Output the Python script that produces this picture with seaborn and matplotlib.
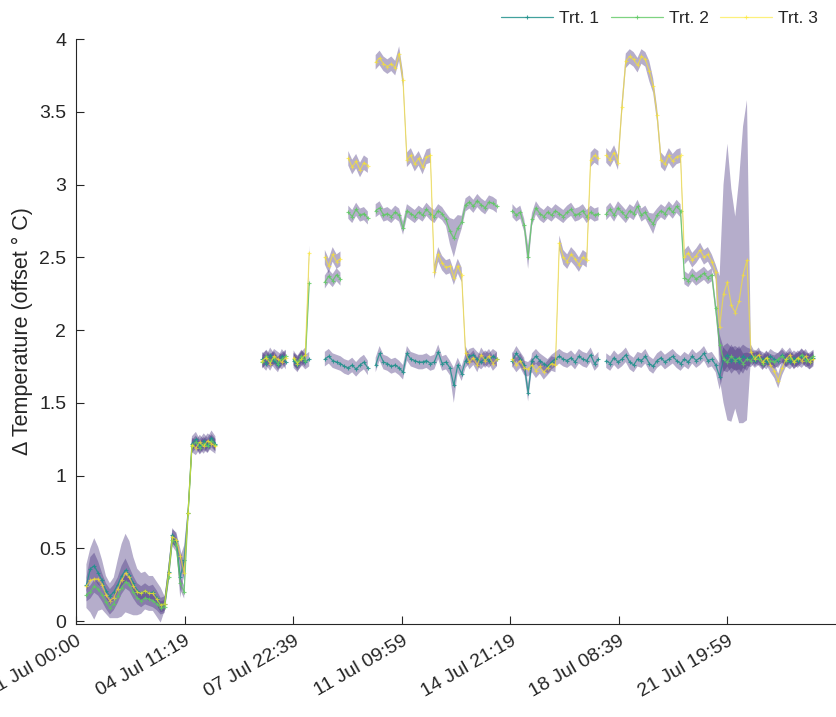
import numpy as np
import pandas as pd
import matplotlib
matplotlib.use('Agg')
import matplotlib.pyplot as plt
from matplotlib.colors import to_hex
from matplotlib.lines import Line2D
import seaborn as sns

#%%
# Data: mean offset per treatment, sampled every 3 h from 01 Jul 08:00
start_time = '2023-07-01 08:00'
step = '3h'

trt1 = ([0.25, 0.36, 0.38, 0.33, 0.28, 0.21, 0.17, 0.20, 0.25, 0.31, 0.35, 0.32, 0.26, 0.21,
         0.19, 0.21, 0.19, 0.20, 0.16, 0.11, 0.12, 0.34, 0.59, 0.55, 0.30, 0.42, 0.74]
        + [1.22, 1.25, 1.20, 1.24, 1.21, 1.26, 1.22]
        + [None] * 11
        + [1.80, 1.77, 1.83, 1.79, 1.76, 1.82, 1.78]
        + [None]
        + [1.79, 1.76, 1.81, 1.78, 1.80]
        + [None] * 3
        + [1.80, 1.82, 1.79, 1.78, 1.77, 1.75, 1.74, 1.76, 1.73, 1.76, 1.78, 1.74]
        + [None]
        + [1.76, 1.84, 1.78, 1.77, 1.75, 1.76, 1.74, 1.71,
           1.84, 1.80, 1.79, 1.78, 1.78, 1.79, 1.77, 1.78, 1.85, 1.77, 1.78, 1.74, 1.62, 1.76, 1.70,
           1.79, 1.82, 1.83, 1.80, 1.78, 1.81, 1.79, 1.82, 1.80]
        + [None] * 3
        + [1.79, 1.84, 1.80, 1.76, 1.57, 1.79, 1.82, 1.79, 1.77, 1.75, 1.78, 1.80, 1.82, 1.80,
           1.79, 1.81, 1.78, 1.82, 1.80, 1.79, 1.83, 1.77, 1.80]
        + [None]
        + [1.79, 1.77, 1.81, 1.78, 1.80, 1.83, 1.78, 1.76, 1.80, 1.79, 1.82, 1.77, 1.75, 1.79,
           1.81, 1.78, 1.80, 1.82, 1.79, 1.77,
           1.80, 1.78, 1.82, 1.79, 1.81, 1.84, 1.79, 1.80, 1.76,
           1.68,
           1.80, 1.83, 1.79, 1.81, 1.78, 1.82, 1.80,
           1.82, 1.79, 1.81, 1.80, 1.78, 1.82, 1.80, 1.79, 1.83, 1.80, 1.78, 1.81, 1.79, 1.82,
           1.80, 1.78, 1.81])

trt2 = ([0.18, 0.20, 0.24, 0.22, 0.18, 0.13, 0.09, 0.12, 0.17, 0.23, 0.27, 0.25, 0.20, 0.16,
         0.14, 0.16, 0.15, 0.14, 0.12, 0.09, 0.10, 0.30, 0.56, 0.52, 0.26, 0.20, 0.74]
        + [1.20, 1.23, 1.19, 1.22, 1.20, 1.24, 1.21]
        + [None] * 11
        + [1.78, 1.82, 1.79, 1.81, 1.77, 1.80, 1.82]
        + [None]
        + [1.80, 1.78, 1.82, 1.79, 2.32]
        + [None] * 3
        + [2.33, 2.37, 2.34, 2.38, 2.35, None, 2.81, 2.78, 2.83, 2.79, 2.80, 2.77]
        + [None]
        + [2.82, 2.84, 2.79, 2.80, 2.78, 2.81, 2.79, 2.70,
           2.82, 2.80, 2.78, 2.81, 2.79, 2.83, 2.80, 2.78, 2.82, 2.80, 2.76, 2.68, 2.63, 2.70, 2.74,
           2.86, 2.88, 2.85, 2.89, 2.86, 2.84, 2.88, 2.87, 2.85]
        + [None] * 3
        + [2.82, 2.79, 2.81, 2.72, 2.50, 2.76, 2.84, 2.80, 2.78, 2.81, 2.79, 2.82, 2.80, 2.78,
           2.81, 2.83, 2.79, 2.80, 2.82, 2.78, 2.81, 2.79, 2.80]
        + [None]
        + [2.80, 2.83, 2.79, 2.84, 2.81, 2.78, 2.82, 2.80, 2.85, 2.79, 2.81, 2.76, 2.73, 2.79,
           2.82, 2.80, 2.84, 2.81, 2.85, 2.82,
           2.36, 2.34, 2.38, 2.35, 2.37, 2.39, 2.36, 2.38,
           2.15, 1.90,
           1.80, 1.78, 1.82, 1.79, 1.81, 1.77, 1.80,
           1.79, 1.82, 1.80, 1.77, 1.81, 1.79, 1.78, 1.80, 1.82, 1.79, 1.81, 1.78, 1.80, 1.83,
           1.79, 1.80, 1.82])

trt3 = ([0.24, 0.28, 0.29, 0.29, 0.25, 0.18, 0.14, 0.16, 0.22, 0.28, 0.33, 0.30, 0.24, 0.20,
         0.19, 0.21, 0.19, 0.19, 0.15, 0.11, 0.12, 0.33, 0.58, 0.56, 0.45, 0.33, 0.74]
        + [1.21, 1.19, 1.23, 1.20, 1.24, 1.22, 1.20]
        + [None] * 11
        + [1.79, 1.81, 1.77, 1.82, 1.80, 1.78, 1.81]
        + [None]
        + [1.81, 1.77, 1.80, 1.83, 2.53]
        + [None] * 3
        + [2.50, 2.44, 2.52, 2.47, 2.49, None, 3.18, 3.12, 3.16, 3.10, 3.15, 3.13]
        + [None]
        + [3.84, 3.87, 3.83, 3.81, 3.83, 3.80, 3.90, 3.72,
           3.17, 3.20, 3.14, 3.18, 3.12, 3.19, 3.20,
           2.40, 2.52, 2.46, 2.43, 2.44, 2.36, 2.44, 2.38,
           1.84, 1.78, 1.81, 1.76, 1.83, 1.79, 1.82, 1.77, 1.80]
        + [None] * 3
        + [1.80, 1.76, 1.79, 1.74, 1.73, 1.76, 1.72, 1.75, 1.71, 1.74, 1.77, 1.76,
           2.60, 2.50, 2.47, 2.52, 2.49, 2.45, 2.50, 2.48,
           3.17, 3.20, 3.18]
        + [None]
        + [3.20, 3.17, 3.22, 3.15,
           3.53,
           3.85, 3.88, 3.86, 3.82, 3.88, 3.86, 3.78, 3.68,
           3.48,
           3.17, 3.14, 3.20, 3.16, 3.19, 3.20,
           2.50, 2.53, 2.48, 2.51, 2.55, 2.50, 2.52, 2.47, 2.40,
           2.02, 2.25, 2.33, 2.17, 2.12, 2.20, 2.38, 2.48,
           1.85, 1.80, 1.83, 1.78, 1.81, 1.76, 1.72, 1.65, 1.74, 1.80, 1.83, 1.78, 1.81, 1.79,
           1.82, 1.78, 1.80])

# spread (shaded band = mean +/- spread); typical value plus the wider spots
sd_base = {'Trt. 1': 0.05, 'Trt. 2': 0.045, 'Trt. 3': 0.05}
trt1_sd_peaks = {1: 0.08, 2: 0.09, 3: 0.08, 9: 0.07, 10: 0.08, 24: 0.14, 25: 0.10,
                 94: 0.12, 113: 0.06, 162: 0.09, 163: 0.09, 164: 0.08, 165: 0.09,
                 166: 0.08, 167: 0.09, 168: 0.08, 169: 0.08}
trt2_sd_peaks = {93: 0.09, 94: 0.13, 95: 0.09, 113: 0.08, 145: 0.07, 162: 0.07,
                 163: 0.08, 164: 0.07, 165: 0.08, 166: 0.07, 167: 0.08, 168: 0.07}
trt3_sd_peaks = {0: 0.15, 1: 0.22, 2: 0.28, 3: 0.22, 4: 0.17, 5: 0.13, 6: 0.12, 7: 0.14,
                 8: 0.20, 9: 0.25, 10: 0.27, 11: 0.25, 12: 0.20, 13: 0.16, 14: 0.14,
                 15: 0.13, 16: 0.12, 17: 0.12, 18: 0.12, 19: 0.12, 144: 0.07,
                 162: 0.35, 163: 0.75, 164: 0.95, 165: 0.80, 166: 0.66, 167: 0.84,
                 168: 1.02, 169: 1.10}

tick_labels = ['01 Jul 00:00', '04 Jul 11:19', '07 Jul 22:39', '11 Jul 09:59',
               '14 Jul 21:19', '18 Jul 08:39', '21 Jul 19:59']
y_ticks = [0, 0.5, 1, 1.5, 2, 2.5, 3, 3.5, 4]
y_tick_labels = ['0', '0.5', '1', '1.5', '2', '2.5', '3', '3.5', '4']

line_colors = ['#21918c', '#5ec962', '#fde725']
line_alpha = {'#21918c': 0.85, '#5ec962': 0.8, '#fde725': 0.6}
band_color = '#46327e'

#%%
# Long table
times = pd.date_range(start_time, periods=len(trt1), freq=step)
series = {'Trt. 1': trt1, 'Trt. 2': trt2, 'Trt. 3': trt3}
peaks = {'Trt. 1': trt1_sd_peaks, 'Trt. 2': trt2_sd_peaks, 'Trt. 3': trt3_sd_peaks}

frames = []
for name, vals in series.items():
    v = pd.Series(np.array(vals, dtype=float))
    sd = pd.Series(sd_base[name], index=v.index)
    for k, s in peaks[name].items():
        sd[k] = s
    frames.append(pd.DataFrame({'time': times, 'temp': v, 'sd': sd, 'trt': name,
                                'seg': v.isna().cumsum()}))
df = pd.concat(frames, ignore_index=True)

#%%
# Plot
sns.set_theme(style='ticks')
plt.rcParams['font.family'] = ['Liberation Sans', 'DejaVu Sans']

fig = plt.figure(figsize=(8.36, 7.17), dpi=100)
ax = fig.add_axes([76 / 836, 93 / 717, 760 / 836, 585 / 717])

for name in series:
    d = df[df['trt'] == name]
    ax.fill_between(d['time'], d['temp'] - d['sd'], d['temp'] + d['sd'],
                    color=band_color, alpha=0.4, lw=0)

sns.lineplot(data=df.dropna(subset=['temp']), x='time', y='temp', hue='trt', units='seg',
             estimator=None, palette=line_colors, marker='+', markersize=3.5,
             linewidth=0.9, legend=False, ax=ax)
for ln in ax.lines:
    c = to_hex(ln.get_color())
    ln.set_markeredgecolor(c)
    ln.set_markeredgewidth(0.8)
    ln.set_alpha(line_alpha.get(c, 0.8))

ax.set_xlim(pd.Timestamp('2023-07-01 00:00'), pd.Timestamp('2023-07-25 07:20'))
ax.set_ylim(-0.02, 4)
tick_pos = pd.to_datetime(['2023 ' + s for s in tick_labels], format='%Y %d %b %H:%M')
ax.set_xticks(tick_pos)
ax.set_xticklabels(tick_labels, rotation=30, ha='right', va='top', rotation_mode='anchor')
ax.set_yticks(y_ticks)
ax.set_yticklabels(y_tick_labels)

ax.set_xlabel('')
ax.set_ylabel('Δ Temperature (offset ° C)', fontsize=15.5, color='#262626')
ax.yaxis.set_label_coords(-0.056, 0.5)

ax.tick_params(direction='in', length=6, width=0.8, colors='#262626', labelsize=14)
ax.tick_params(axis='y', pad=7)
ax.tick_params(axis='x', pad=6)
sns.despine(ax=ax)
for s in ['left', 'bottom']:
    ax.spines[s].set_color('#262626')
    ax.spines[s].set_linewidth(0.8)

handles = [Line2D([], [], color=c, marker='+', markersize=3.5, mec=c, mew=0.8,
                  linewidth=0.9, alpha=line_alpha[c]) for c in line_colors]
fig.legend(handles, list(series.keys()), ncol=3, frameon=False, loc='center right',
           bbox_to_anchor=(818 / 836, 1 - 18 / 717), fontsize=12.5, handlelength=3.0,
           handletextpad=0.35, columnspacing=0.65, borderpad=0, borderaxespad=0)

fig.savefig('out.png', dpi=100)
